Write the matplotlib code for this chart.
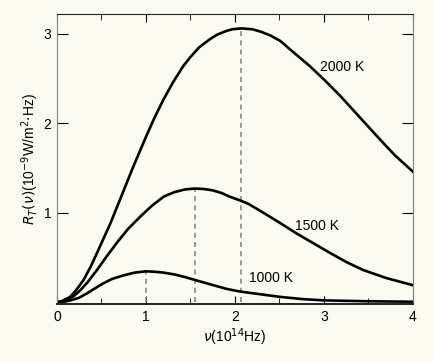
import matplotlib
matplotlib.use("Agg")
import matplotlib.pyplot as plt
from matplotlib.ticker import MultipleLocator

plt.rcParams['font.family'] = ['Liberation Sans', 'DejaVu Sans']

# curves: frequency (10^14 Hz) vs spectral radiancy
nu_2000 = [0, 0.05, 0.15, 0.22, 0.30, 0.38, 0.45, 0.60, 0.73, 0.86, 1.01, 1.10,
           1.20, 1.30, 1.42, 1.50, 1.60, 1.72, 1.80, 1.90, 1.97, 2.07, 2.20, 2.30,
           2.40, 2.51, 2.65, 2.84, 3.00, 3.18, 3.40, 3.63, 3.80, 4.0]
r_2000 = [0, 0.01, 0.06, 0.14, 0.25, 0.40, 0.55, 0.88, 1.20, 1.52, 1.87, 2.07,
          2.27, 2.45, 2.64, 2.74, 2.85, 2.94, 2.99, 3.03, 3.05, 3.06, 3.05, 3.02,
          2.98, 2.92, 2.80, 2.64, 2.49, 2.31, 2.07, 1.82, 1.64, 1.46]

nu_1500 = [0, 0.05, 0.12, 0.19, 0.26, 0.35, 0.45, 0.55, 0.67, 0.80, 0.94, 1.07,
           1.20, 1.32, 1.44, 1.55, 1.65, 1.75, 1.85, 1.94, 2.05, 2.15, 2.32, 2.50,
           2.69, 2.88, 3.07, 3.25, 3.44, 3.70, 4.0]
r_1500 = [0, 0.005, 0.03, 0.07, 0.13, 0.23, 0.36, 0.50, 0.66, 0.82, 0.96, 1.08,
          1.18, 1.23, 1.26, 1.27, 1.265, 1.25, 1.22, 1.18, 1.14, 1.10, 1.00, 0.89,
          0.77, 0.66, 0.55, 0.45, 0.36, 0.27, 0.19]

nu_1000 = [0, 0.08, 0.15, 0.25, 0.34, 0.42, 0.52, 0.62, 0.75, 0.87, 1.0, 1.1,
           1.2, 1.32, 1.44, 1.65, 1.9, 2.05, 2.2, 2.35, 2.5, 2.75, 3.0, 3.5, 4.0]
r_1000 = [0, 0.005, 0.02, 0.05, 0.10, 0.15, 0.21, 0.26, 0.30, 0.33, 0.345, 0.34,
          0.33, 0.31, 0.28, 0.22, 0.15, 0.12, 0.10, 0.08, 0.06, 0.035, 0.02, 0.01, 0.005]

# peak positions (dashed markers)
peak_nu = [1.0, 1.55, 2.07]
peak_r = [0.345, 1.27, 3.06]

labels = ["2000 K", "1500 K", "1000 K"]
label_pos = [(3.21, 2.63), (2.92, 0.85), (2.41, 0.27)]

fig = plt.figure(figsize=(4.35, 3.61), dpi=100)
fig.patch.set_facecolor('#fbfaf0')
ax = fig.add_axes([0.131, 0.158, 0.818, 0.803])
ax.set_facecolor('#fbfaf0')

for px, py in zip(peak_nu, peak_r):
    ax.plot([px, px], [0, py], color='#888888', lw=1.2, ls=(0, (3, 2.5)))

ax.plot(nu_2000, r_2000, color='black', lw=1.9)
ax.plot(nu_1500, r_1500, color='black', lw=1.9)
ax.plot(nu_1000, r_1000, color='black', lw=1.9)

for txt, (x, y) in zip(labels, label_pos):
    ax.text(x, y, txt, fontsize=10, ha='center', va='center')

ax.set_xlim(0, 4)
ax.set_ylim(-0.02, 3.22)
ax.xaxis.set_major_locator(MultipleLocator(1))
ax.xaxis.set_minor_locator(MultipleLocator(0.5))
ax.set_yticks([1, 2, 3])
ax.tick_params(axis='x', which='both', direction='in', top=True, labelsize=10, pad=4)
ax.tick_params(axis='x', which='major', length=6)
ax.tick_params(axis='x', which='minor', length=4)
ax.tick_params(axis='y', direction='in', right=True, length=8, labelsize=10, pad=4)

for side in ['left', 'right']:
    ax.spines[side].set_color('#808080')
for side in ['top', 'bottom']:
    ax.spines[side].set_color('#222222')
ax.spines['bottom'].set_linewidth(1.4)

ax.set_xlabel(r'$\nu$(10$^{14}$Hz)', fontsize=10, labelpad=2)
ax.set_ylabel(r'$R_T(\nu)$(10$^{-9}$W/m$^2$$\cdot$Hz)', fontsize=10, labelpad=2)

fig.savefig('out.png', dpi=100, facecolor=fig.get_facecolor())
